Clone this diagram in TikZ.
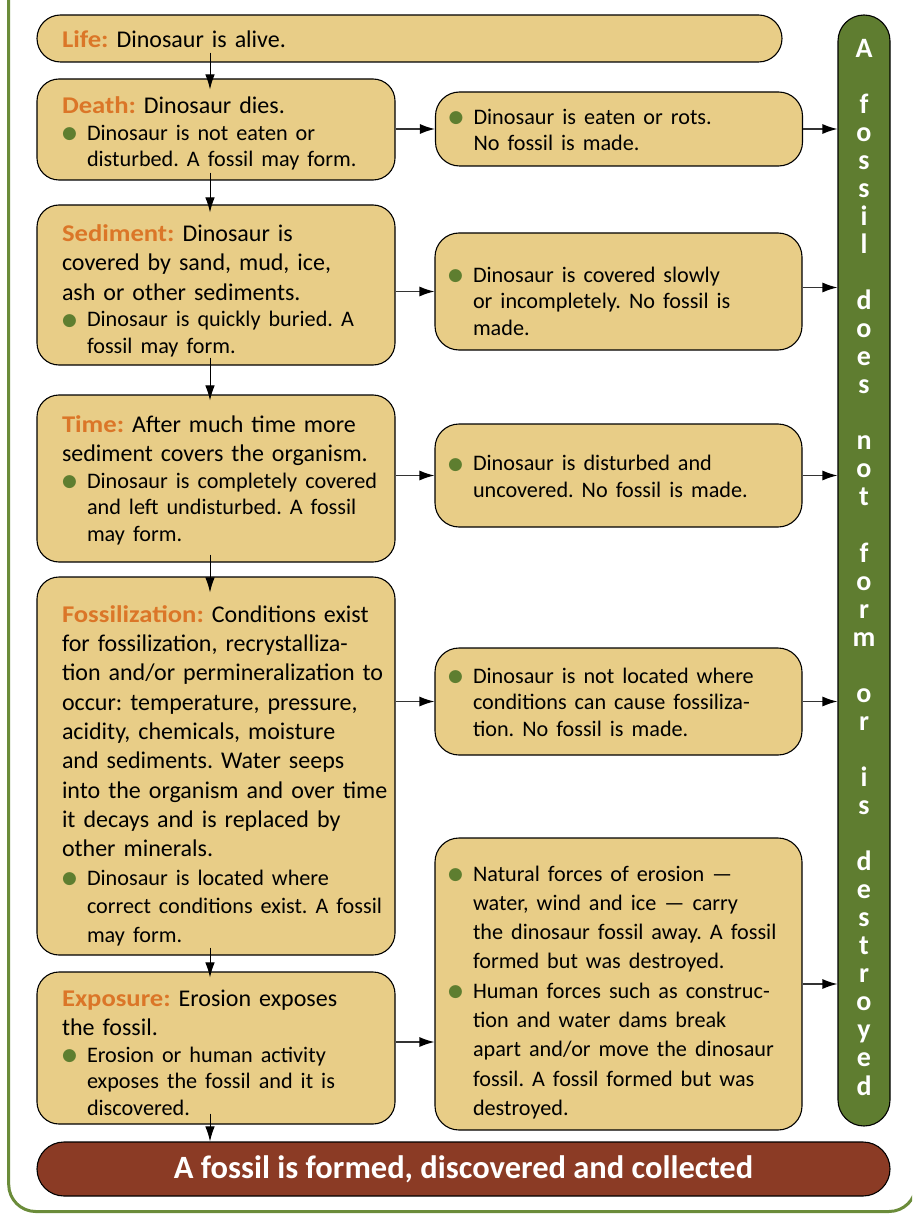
\documentclass[tikz,border=0pt]{standalone}
\usepackage{fontspec}
\usepackage{graphicx}
\setmainfont{Carlito}
\newfontfamily\dejavu{DejaVu Sans}
\usetikzlibrary{arrows.meta,calc}
\definecolor{boxfill}{HTML}{E8CD87}
\definecolor{ttlorange}{HTML}{DB7628}
\definecolor{dotg}{HTML}{5E7E30}
\definecolor{gbar}{HTML}{5F7D30}
\definecolor{framegreen}{HTML}{6B8C3A}
\definecolor{brownbar}{HTML}{8B3B25}
\definecolor{arrgray}{HTML}{333333}
\newcommand\mainsz{\fontsize{24}{29.3}\selectfont}
\newcommand\setnb{\frenchspacing\rightskip=0pt plus 1fil minus 200pt\relax
  \hyphenpenalty=10000\relax\parskip=0pt\relax\parindent=0pt\relax\fontsize{24}{29.3}\selectfont}
\newcommand\ttl[1]{\scalebox{1.11}[1]{\textcolor{ttlorange}{\bfseries #1}}}
\newcommand\tsh[1]{\rule{0pt}{#1}}
\newcommand\dotb{\raisebox{1.5pt}{\textcolor{dotg}{\dejavu\fontsize{17}{17}\selectfont ●}}}
\newcommand\bl[2][26.5]{{\fontsize{22.2}{#1}\selectfont\leftskip=25pt\relax\noindent\llap{\makebox[25pt][l]{\dotb}}#2\par}}
\begin{document}
\begin{tikzpicture}[x=1pt,y=-1pt,
  box/.style={draw=black, line width=1.1pt, fill=boxfill, rounded corners=22pt,
    align=left, inner xsep=25pt, inner ysep=0pt, font=\mainsz, execute at begin node=\setnb},
  lbox/.style={box, minimum width=358pt, text width=308pt},
  rbox/.style={box, rounded corners=24pt, minimum width=367pt, text width=341pt, inner xsep=13pt},
  varr/.style={-{Latex[length=15pt,width=9.5pt]}, line width=1pt, black},
  harr/.style={-{Latex[length=15pt,width=10pt,color=black]}, line width=1.3pt, draw=arrgray}]
\useasboundingbox (0,0) rectangle (912,1214);
\begin{scope}
\clip (0,0) rectangle (912,1214);
\draw[framegreen, line width=3pt, rounded corners=27pt] (8.7,-60) rectangle (916,1211.5);
\end{scope}

\node[box, minimum width=745pt, text width=695pt, minimum height=47pt, rounded corners=23.5pt] (life) at (409.5,38.5) {\tsh{19pt}\ttl{Life:} Dinosaur is alive.};

\node[lbox, minimum height=101pt] (death) at (216,129.5) {\tsh{25pt}\ttl{Death:} Dinosaur dies.\par\bl{Dinosaur is not eaten or\\disturbed. A fossil may form.}};
\node[rbox, minimum height=74pt] (r1) at (619,129) {\tsh{17pt}\bl{Dinosaur is eaten or rots.\\No fossil is made.}};

\node[lbox, minimum height=160pt] (sed) at (216,285) {\tsh{28pt}\ttl{Sediment:} Dinosaur is\\covered by sand, mud, ice,\\ash or other sediments.\par\bl{Dinosaur is quickly buried. A\\fossil may form.}};
\node[rbox, minimum height=117pt] (r2) at (618.5,291.5) {\tsh{35pt}\bl{Dinosaur is covered slowly\\or incompletely. No fossil is\\made.}};

\node[lbox, minimum height=167pt] (time) at (216,478.5) {\tsh{20pt}\ttl{Time:} After much time more\\sediment covers the organism.\par\bl{Dinosaur is completely covered\\and left undisturbed. A fossil\\may form.}};
\node[rbox, minimum height=103pt] (r3) at (618.5,475.5) {\tsh{17pt}\bl{Dinosaur is disturbed and\\uncovered. No fossil is made.}};

\node[lbox, minimum height=378pt] (fos) at (216,766) {\tsh{36pt}\ttl{Fossilization:} Conditions exist\\for fossilization, recrystalliza-\\tion and/or permineralization to\\occur: temperature, pressure,\\acidity, chemicals, moisture\\and sediments. Water seeps\\into the organism and over time\\it decays and is replaced by\\other minerals.\par\bl[28.5]{Dinosaur is located where\\correct conditions exist. A fossil\\may form.}};
\node[rbox, minimum height=107pt] (r4) at (618.5,701.5) {\tsh{17pt}\bl{Dinosaur is not located where\\conditions can cause fossiliza-\\tion. No fossil is made.}};

\node[lbox, minimum height=152pt] (expo) at (216,1048) {\tsh{26pt}\ttl{Exposure:} Erosion exposes\\the fossil.\par\bl{Erosion or human activity\\exposes the fossil and it is\\discovered.}};
\node[rbox, minimum height=292pt] (r5) at (618.5,984) {\tsh{32pt}\bl[29.3]{Natural forces of erosion —\\water, wind and ice — carry\\the dinosaur fossil away. A fossil\\formed but was destroyed.}\bl[29.3]{Human forces such as construc-\\tion and water dams break\\apart and/or move the dinosaur\\fossil. A fossil formed but was\\destroyed.}};

\node[draw=black, line width=1.1pt, fill=gbar, rounded corners=26pt, minimum width=52pt,
  minimum height=1111pt, text width=52pt, inner sep=0pt, align=center, text=white,
  font=\fontsize{28}{28.05}\selectfont\bfseries] (nofossil) at (864,570.5)
  {A\\\mbox{}\\f\\o\\s\\s\\i\\l\\\mbox{}\\d\\o\\e\\s\\\mbox{}\\n\\o\\t\\\mbox{}\\f\\o\\r\\m\\\mbox{}\\o\\r\\\mbox{}\\i\\s\\\mbox{}\\d\\e\\s\\t\\r\\o\\y\\e\\d\rule[-7pt]{0pt}{7pt}};

\node[draw=black, line width=1.1pt, fill=brownbar, rounded corners=27pt, minimum width=853pt,
  minimum height=54pt, inner sep=0pt, text=white, font=\fontsize{32.5}{38}\selectfont\bfseries]
  (final) at (463.5,1169) {A fossil is formed, discovered and collected};

% vertical flow
\coordinate (spine) at (210,0);
\draw[varr] ($(life.south -| spine)+(0,-10)$) -- ($(death.north -| spine)+(0,11)$);
\draw[varr] ($(death.south -| spine)+(0,-8)$) -- ($(sed.north -| spine)+(0,8)$);
\draw[varr] ($(sed.south -| spine)+(0,-8)$) -- ($(time.north -| spine)+(0,6)$);
\draw[varr] ($(time.south -| spine)+(0,-8)$) -- ($(fos.north -| spine)+(0,16)$);
\draw[varr] ($(fos.south -| spine)+(0,-8)$) -- ($(expo.north -| spine)+(0,6)$);
\draw[varr] ($(expo.south -| spine)+(0,-11)$) -- (final.north -| spine);

% side branches
\draw[harr] (death.east |- r1.west) -- (r1.west);
\draw[harr] (sed.east |- r2.west) -- (r2.west);
\draw[harr] (time.east |- r3.west) -- (r3.west);
\draw[harr] (fos.east |- r4.west) -- (r4.west);
\coordinate (e5) at ($(expo.east)+(0,-6)$);
\draw[harr] (e5) -- (e5 -| r5.west);

% to the "no fossil" bar
\draw[harr] (r1.east) -- (r1.east -| nofossil.west);
\coordinate (e2) at ($(r2.east)+(0,-4)$);
\draw[harr] (e2) -- (e2 -| nofossil.west);
\draw[harr] (r3.east) -- (r3.east -| nofossil.west);
\draw[harr] (r4.east) -- (r4.east -| nofossil.west);
\draw[harr] (r5.east) -- (r5.east -| nofossil.west);
\end{tikzpicture}
\end{document}
